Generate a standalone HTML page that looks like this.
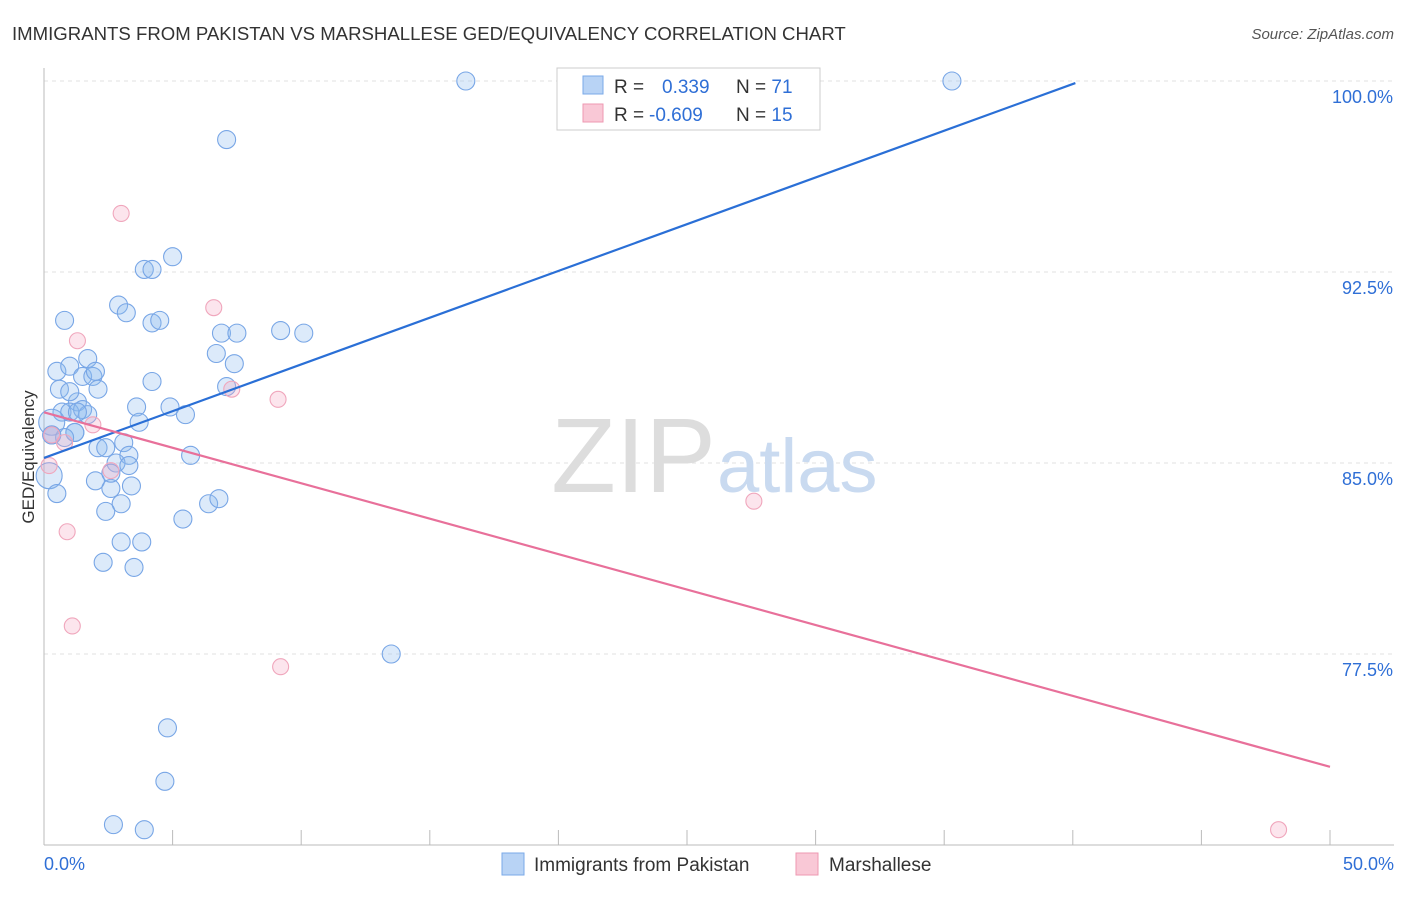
<!DOCTYPE html>
<html><head><meta charset="utf-8"><style>
body{margin:0;background:#fff;font-family:"Liberation Sans",sans-serif;}
svg text{font-family:"Liberation Sans",sans-serif;}
</style></head><body>
<svg id="chart" width="1406" height="892">
<text x="12" y="40" font-size="18.6" fill="#333">IMMIGRANTS FROM PAKISTAN VS MARSHALLESE GED/EQUIVALENCY CORRELATION CHART</text>
<text x="1394" y="39" font-size="15" fill="#555" font-style="italic" text-anchor="end">Source: ZipAtlas.com</text>
<g id="grid"></g>
<text x="716" y="492" font-size="106" fill="#ddd" text-anchor="end" font-family="Liberation Serif">ZIP</text>
<text x="717" y="492" font-size="76" fill="#c9daf0">atlas</text>
<g id="axes"></g>
<g id="marks"></g>
<text transform="translate(34,457) rotate(-90)" font-size="17" fill="#333" text-anchor="middle">GED/Equivalency</text>
<g>
<rect x="557" y="68" width="263" height="62" fill="#fff" stroke="#ccc"/>
<rect x="583" y="76" width="20" height="18" fill="#b8d3f5" stroke="#7aaae8"/>
<rect x="583" y="104" width="20" height="18" fill="#f9c8d6" stroke="#ee98b2"/>
<text x="614" y="93" font-size="19" fill="#333">R = <tspan fill="#2f6fd6" x="662">0.339</tspan><tspan fill="#333" x="736">N = </tspan><tspan fill="#2f6fd6">71</tspan></text>
<text x="614" y="121" font-size="19" fill="#333">R = <tspan fill="#2f6fd6" x="649">-0.609</tspan><tspan fill="#333" x="736">N = </tspan><tspan fill="#2f6fd6">15</tspan></text>
</g>
<g>
<rect x="502" y="853" width="22" height="22" fill="#b8d3f5" stroke="#7aaae8"/>
<text x="534" y="871" font-size="19" fill="#333">Immigrants from Pakistan</text>
<rect x="796" y="853" width="22" height="22" fill="#f9c8d6" stroke="#ee98b2"/>
<text x="829" y="871" font-size="19" fill="#333">Marshallese</text>
</g>
</svg>
<script>
const blueX=[16.4,35.3,7.1,5.0,3.9,4.2,0.8,2.9,3.2,4.2,4.5,9.2,10.1,6.9,7.5,6.7,7.4,1.7,0.5,1.0,1.5,1.9,2.0,0.6,2.1,7.1,1.3,3.6,4.9,0.7,1.0,1.5,1.7,5.5,3.7,0.3,0.3,1.2,1.2,2.1,3.1,5.7,3.3,2.8,3.3,0.2,0.5,2.0,2.6,3.4,3.0,2.4,6.4,6.8,5.4,3.0,2.3,3.5,3.8,13.5,4.8,4.7,2.7,3.9,2.4,0.8,1.3,0.3,4.2,2.6,1.0];
const blueY=[100.0,100.0,97.7,93.1,92.6,92.6,90.6,91.2,90.9,90.5,90.6,90.2,90.1,90.1,90.1,89.3,88.9,89.1,88.6,88.8,88.4,88.4,88.6,87.9,87.9,88.0,87.4,87.2,87.2,87.0,87.0,87.1,86.9,86.9,86.6,86.6,86.1,86.2,86.2,85.6,85.8,85.3,85.3,85.0,84.9,84.5,83.8,84.3,84.0,84.1,83.4,83.1,83.4,83.6,82.8,81.9,81.1,80.9,81.9,77.5,74.6,72.5,70.8,70.6,85.6,86.0,87.0,86.1,88.2,84.6,87.8];
const pinkX=[3.0,1.3,6.6,7.3,9.1,1.9,0.8,0.3,0.2,2.6,0.9,1.1,9.2,27.6,48.0];
const pinkY=[94.8,89.8,91.1,87.9,87.5,86.5,85.8,86.1,84.9,84.7,82.3,78.6,77.0,83.5,70.6];
const blueLine=[[0,85.2],[40.1,99.92]];
const pinkLine=[[0,86.99],[50,73.07]];
const yTicks=[100,92.5,85,77.5];
const yTickLabels=["100.0%","92.5%","85.0%","77.5%"];
const xTicks=[0,5,10,15,20,25,30,35,40,45,50];
const ns="http://www.w3.org/2000/svg";
const X=v=>44+v/50*1286;
const Y=v=>81+(100-v)*191/7.5;
function mk(t,a,p){const e=document.createElementNS(ns,t);for(const k in a)e.setAttribute(k,a[k]);p.appendChild(e);return e;}
const grid=document.getElementById('grid'),axes=document.getElementById('axes'),marks=document.getElementById('marks');
yTicks.forEach((v,i)=>{
 const l=mk('line',{x1:44,x2:1394,y1:Y(v),y2:Y(v),stroke:'#e2e2e2','stroke-dasharray':'4,4'},grid);
 
 
 const t=mk('text',{x:1393,y:Y(v)+22,'font-size':18,fill:'#2f6fd6','text-anchor':'end'},axes);
 t.textContent=yTickLabels[i];
 
 
});
const ax=mk('line',{x1:44,x2:44,y1:68,y2:845,stroke:'#bbb'},axes);


const bx=mk('line',{x1:44,x2:1394,y1:845,y2:845,stroke:'#bbb'},axes);


xTicks.forEach(v=>{const l=mk('line',{x1:X(v),x2:X(v),y1:830,y2:845,stroke:'#bbb'},axes);
 
 });
let t0=mk('text',{x:44,y:870,'font-size':18,fill:'#2f6fd6'},axes);t0.textContent='0.0%';


let t1=mk('text',{x:1394,y:870,'font-size':18,fill:'#2f6fd6','text-anchor':'end'},axes);t1.textContent='50.0%';


blueX.forEach((v,i)=>{const big=(i==35||i==45);const c=mk('circle',{cx:X(v),cy:Y(blueY[i]),r:big?13:9,fill:'rgba(140,185,240,0.3)',stroke:'#78a6e6','stroke-width':1.1},marks);
 
 });
pinkX.forEach((v,i)=>{const c=mk('circle',{cx:X(v),cy:Y(pinkY[i]),r:8,fill:'rgba(245,170,195,0.3)',stroke:'#f0a6bc','stroke-width':1.1},marks);
 
 });
const bl=mk('line',{x1:X(blueLine[0][0]),y1:Y(blueLine[0][1]),x2:X(blueLine[1][0]),y2:Y(blueLine[1][1]),stroke:'#2a6fd6','stroke-width':2.2},marks);


const pl=mk('line',{x1:X(pinkLine[0][0]),y1:Y(pinkLine[0][1]),x2:X(pinkLine[1][0]),y2:Y(pinkLine[1][1]),stroke:'#e8709a','stroke-width':2.2},marks);


</script>
</body></html>
